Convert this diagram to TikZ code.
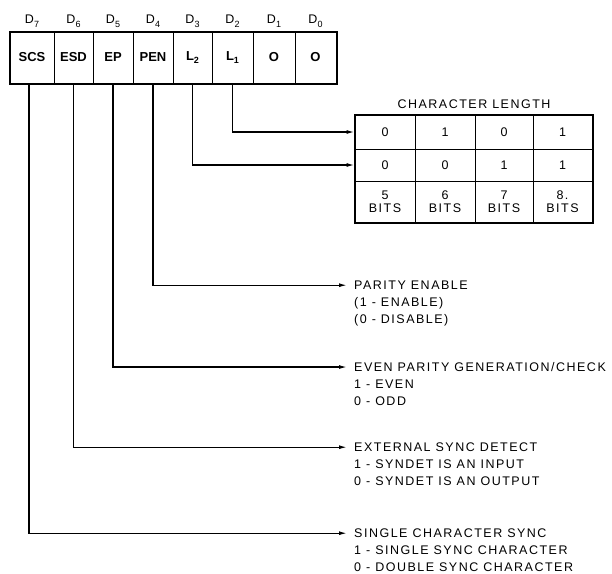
\documentclass[tikz,border=0pt]{standalone}
\usepackage{fontspec}
\setmainfont{Liberation Sans}[LetterSpace=12]
\usetikzlibrary{positioning,arrows.meta}

\newcommand{\bitsub}[1]{\raisebox{-0.5ex}{\fontsize{9}{9}\selectfont #1}}

\begin{document}
\begin{tikzpicture}[x=1pt,y=-1pt,
    every node/.style={font=\fontsize{12.5}{13}\selectfont, inner sep=0pt},
    cell/.style={draw, line width=1pt, minimum height=51pt, font=\fontsize{13}{14}\selectfont\bfseries\addfontfeature{LetterSpace=0}},
    tcell/.style={draw, line width=1pt, align=center},
    lead/.style={line width=1.3pt, shorten >=7pt, -{Latex[length=8pt,width=4pt]}},
    txt/.style={anchor=base west}]
    \useasboundingbox (0,0) rectangle (612,573);

    % the mode register
    \node[cell, minimum width=44pt] (scs) at (32,57.5) {SCS};
    \node[cell, minimum width=39pt] (esd) at (73.5,57.5) {ESD};
    \node[cell, minimum width=40pt] (ep) at (113,57.5) {EP};
    \node[cell, minimum width=40pt] (pen) at (153,57.5) {PEN};
    \node[cell, minimum width=39pt] (ltwo) at (192.5,57.5) {L\bitsub{2}};
    \node[cell, minimum width=41pt] (lone) at (232.5,57.5) {L\bitsub{1}};
    \node[cell, minimum width=42pt] (done) at (274,57.5) {O};
    \node[cell, minimum width=41pt] (dzero) at (315.5,57.5) {O};
    \draw[line width=2pt] (scs.north west) rectangle (dzero.south east);

    \node[above=4pt of scs] (bseven) {D\bitsub{7}};
    \node[above=4pt of esd] (bsix) {D\bitsub{6}};
    \node[above=4pt of ep] (bfive) {D\bitsub{5}};
    \node[above=4pt of pen] (bfour) {D\bitsub{4}};
    \node[above=4pt of ltwo] (bthree) {D\bitsub{3}};
    \node[above=4pt of lone] (btwo) {D\bitsub{2}};
    \node[above=4pt of done] (bone) {D\bitsub{1}};
    \node[above=4pt of dzero] (bzero) {D\bitsub{0}};

    % character length table
    \node[tcell, minimum width=60pt, minimum height=34pt] (ra) at (385,132) {0};
    \node[tcell, minimum width=60pt, minimum height=34pt] (rb) at (445,132) {1};
    \node[tcell, minimum width=58pt, minimum height=34pt] (rc) at (504,132) {0};
    \node[tcell, minimum width=59pt, minimum height=34pt] (rd) at (562.5,132) {1};
    \node[tcell, minimum width=60pt, minimum height=32pt] (sa) at (385,165) {0};
    \node[tcell, minimum width=60pt, minimum height=32pt] (sb) at (445,165) {0};
    \node[tcell, minimum width=58pt, minimum height=32pt] (sc) at (504,165) {1};
    \node[tcell, minimum width=59pt, minimum height=32pt] (sd) at (562.5,165) {1};
    \node[tcell, minimum width=60pt, minimum height=41pt] (ba) at (385,201.5) {5\\BITS};
    \node[tcell, minimum width=60pt, minimum height=41pt] (bb) at (445,201.5) {6\\BITS};
    \node[tcell, minimum width=58pt, minimum height=41pt] (bc) at (504,201.5) {7\\BITS};
    \node[tcell, minimum width=59pt, minimum height=41pt] (bd) at (562.5,201.5) {8.\\BITS};
    \draw[line width=2pt] (ra.north west) rectangle (bd.south east);
    \node (chlen) at (474,104) {CHARACTER LENGTH};

    % descriptions
    \node[txt] (parity) at (354,289.5) {PARITY ENABLE};
    \node[txt] (parone) at (354,306.5) {(1 - ENABLE)};
    \node[txt] (parzero) at (354,323.5) {(0 - DISABLE)};

    \node[txt] (even) at (354,371.5) {EVEN PARITY GENERATION/CHECK};
    \node[txt] (evenone) at (354,388.5) {1 - EVEN};
    \node[txt] (evenzero) at (354,405.5) {0 - ODD};

    \node[txt] (extsync) at (354,451.5) {EXTERNAL SYNC DETECT};
    \node[txt] (extone) at (354,468.5) {1 - SYNDET IS AN INPUT};
    \node[txt] (extzero) at (354,485.5) {0 - SYNDET IS AN OUTPUT};

    \node[txt] (single) at (354,537.5) {SINGLE CHARACTER SYNC};
    \node[txt] (singone) at (354,554.5) {1 - SINGLE SYNC CHARACTER};
    \node[txt] (singzero) at (354,571) {0 - DOUBLE SYNC CHARACTER};

    % leads
    \draw[lead, shorten >=0pt] (lone.south) |- (ra.west);
    \draw[lead, shorten >=0pt] (ltwo.south) |- (sa.west);
    \draw[lead] (pen.south) |- (parity.west);
    \draw[lead] (ep.south) |- (even.west);
    \draw[lead] (esd.south) |- (extsync.west);
    \draw[lead] ([xshift=-3pt]scs.south) |- (single.west);

\end{tikzpicture}
\end{document}
